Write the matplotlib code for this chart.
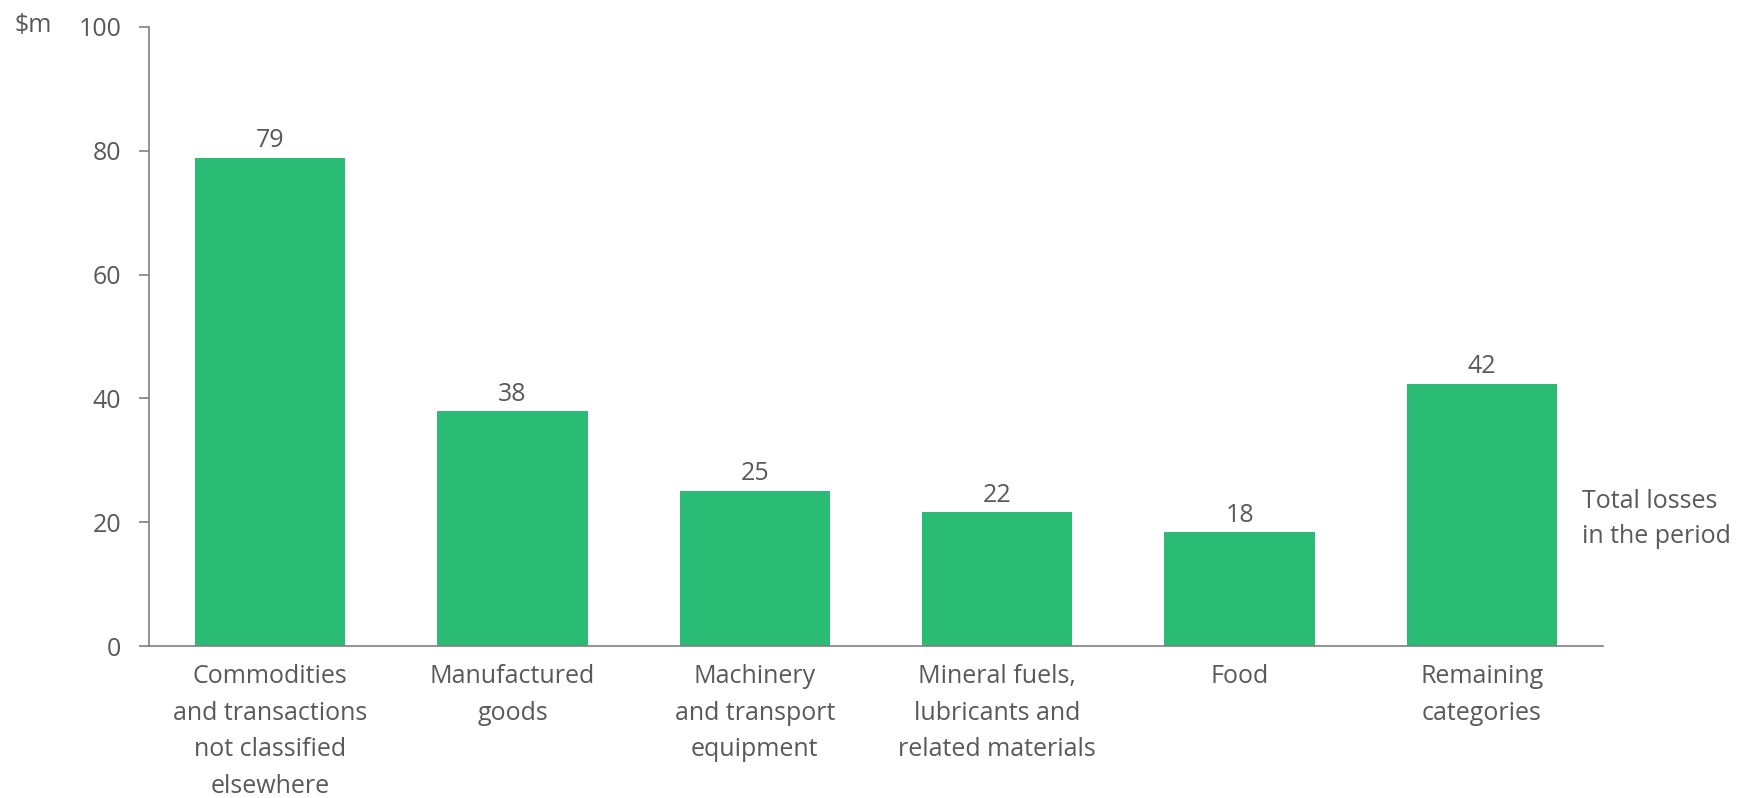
import matplotlib
matplotlib.use("Agg")
import matplotlib.pyplot as plt

categories = [
    "Commodities\nand transactions\nnot classified\nelsewhere",
    "Manufactured\ngoods",
    "Machinery\nand transport\nequipment",
    "Mineral fuels,\nlubricants and\nrelated materials",
    "Food",
    "Remaining\ncategories",
]
values = [78.9, 38.0, 25.1, 21.6, 18.4, 42.4]
yticks = [0, 20, 40, 60, 80, 100]

GREEN = "#2abb74"
TEXT = "#595959"
AXIS = "#808080"
FONT = "Open Sans"
FS = 18

plt.rcParams["font.family"] = [FONT, "DejaVu Sans"]

fig = plt.figure(figsize=(17.45, 7.98), dpi=100)
ax = fig.add_axes([149 / 1745, 1 - 646 / 798, (1603 - 149) / 1745, (646 - 27) / 798])

x = list(range(len(categories)))
bars = ax.bar(x, values, width=0.62, color=GREEN, zorder=2)

for xi, v in zip(x, values):
    ax.annotate(f"{v:.0f}", (xi, v), xytext=(0, 3), textcoords="offset points",
                ha="center", va="bottom", fontsize=FS, color=TEXT)

ax.set_xlim(-0.5, len(categories) - 0.5)
ax.set_ylim(0, 100)
ax.set_yticks(yticks)
ax.set_xticks(x)
ax.set_xticklabels(categories, fontsize=FS, color=TEXT, linespacing=1.61)
ax.tick_params(axis="x", length=0, pad=13)
ax.tick_params(axis="y", length=7, width=1.2, color=AXIS, pad=13, labelsize=FS, labelcolor=TEXT)

for s in ["top", "right"]:
    ax.spines[s].set_visible(False)
for s in ["left", "bottom"]:
    ax.spines[s].set_color(AXIS)
    ax.spines[s].set_linewidth(1.2)

fig.text(15 / 1745, 1 - 26 / 798, "$m", ha="left", va="center", fontsize=FS, color=TEXT)
fig.text(1582 / 1745, 1 - 519 / 798, "Total losses\nin the period", ha="left", va="center",
         fontsize=FS, color=TEXT, linespacing=1.55)

fig.savefig("out.png", dpi=100)
